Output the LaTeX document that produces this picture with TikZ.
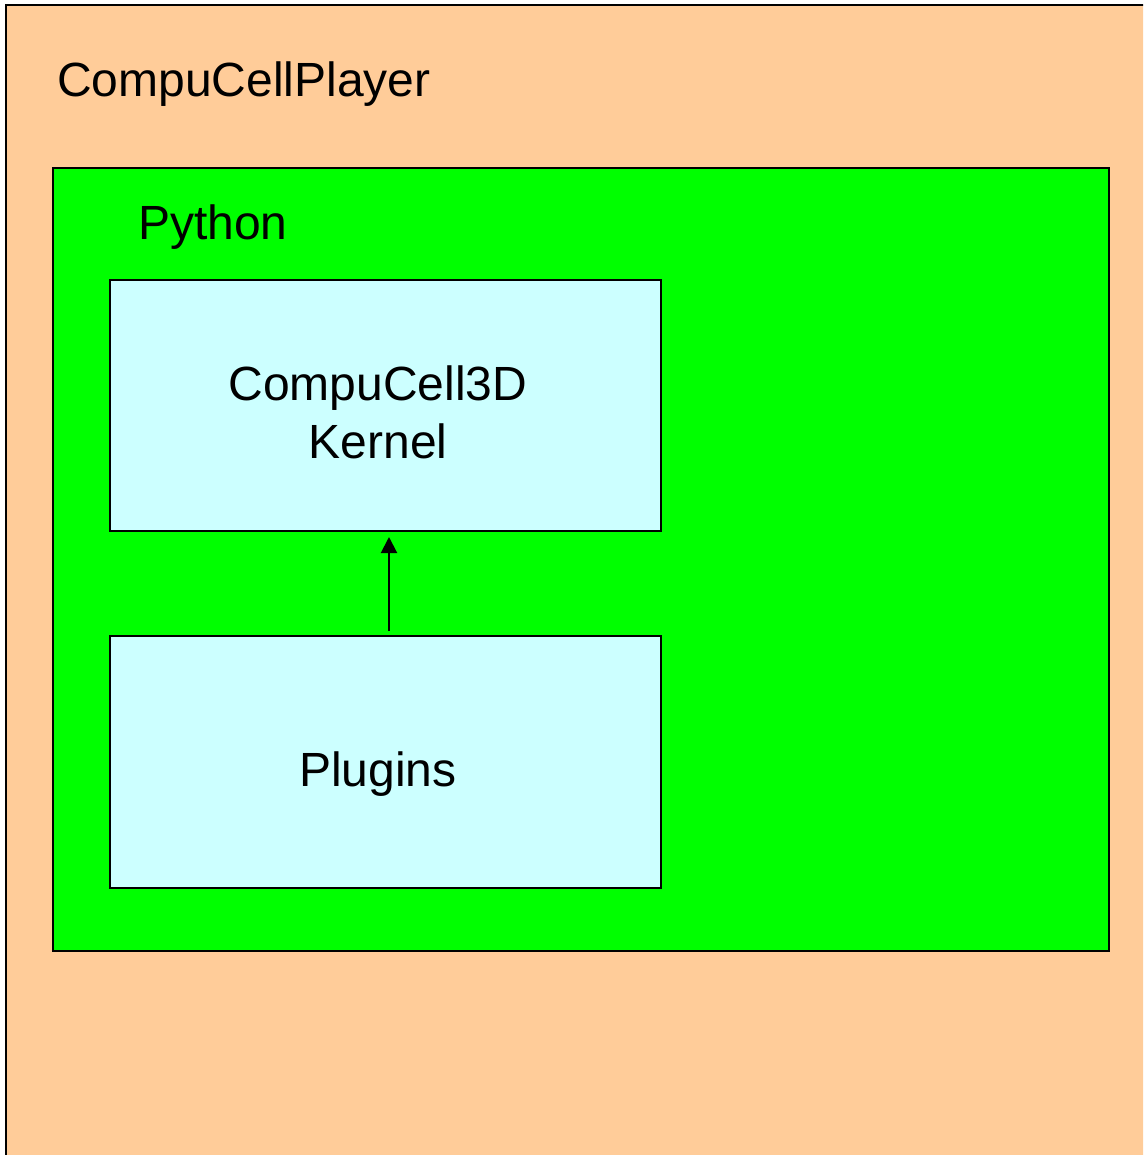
\documentclass[tikz,border=0pt]{standalone}
\usepackage{fontspec}
\setmainfont{Liberation Sans}
\usetikzlibrary{arrows.meta}
\definecolor{peach}{HTML}{FFCC99}
\definecolor{pygreen}{HTML}{00FF00}
\definecolor{lcyan}{HTML}{CCFFFF}
\begin{document}
\begin{tikzpicture}[x=1pt,y=-1pt,
  box/.style={draw=black,line width=2pt},
  lbl/.style={inner sep=0pt,anchor=base west,font=\fontsize{48}{58}\selectfont},
  ctr/.style={inner sep=0pt,align=center,font=\fontsize{48}{58}\selectfont}]
\useasboundingbox (0,0) rectangle (1143,1155);
\clip (0,0) rectangle (1143,1155);
\draw[box,fill=peach] (6,5) rectangle (1160,1170);
\node[lbl] (player) at (57,97) {CompuCellPlayer};
\draw[box,fill=pygreen] (53,168) rectangle (1109,951);
\node[lbl] (python) at (138,240) {Python};
\node[box,fill=lcyan,minimum width=551pt,minimum height=251pt,inner sep=0pt] (kernel) at (385.5,405.5) {};
\node[ctr] (kt) at (378,412) {CompuCell3D\\Kernel};
\node[box,fill=lcyan,minimum width=551pt,minimum height=252pt,inner sep=0pt] (plugins) at (385.5,762) {};
\node[ctr] (pt) at (378,774) {Plugins};
\draw[line width=2pt,-{Triangle[length=16pt,width=16pt]},shorten <=4pt,shorten >=5pt]
  ([xshift=3.5pt]plugins.north) -- ([xshift=3.5pt]kernel.south);
\end{tikzpicture}
\end{document}
